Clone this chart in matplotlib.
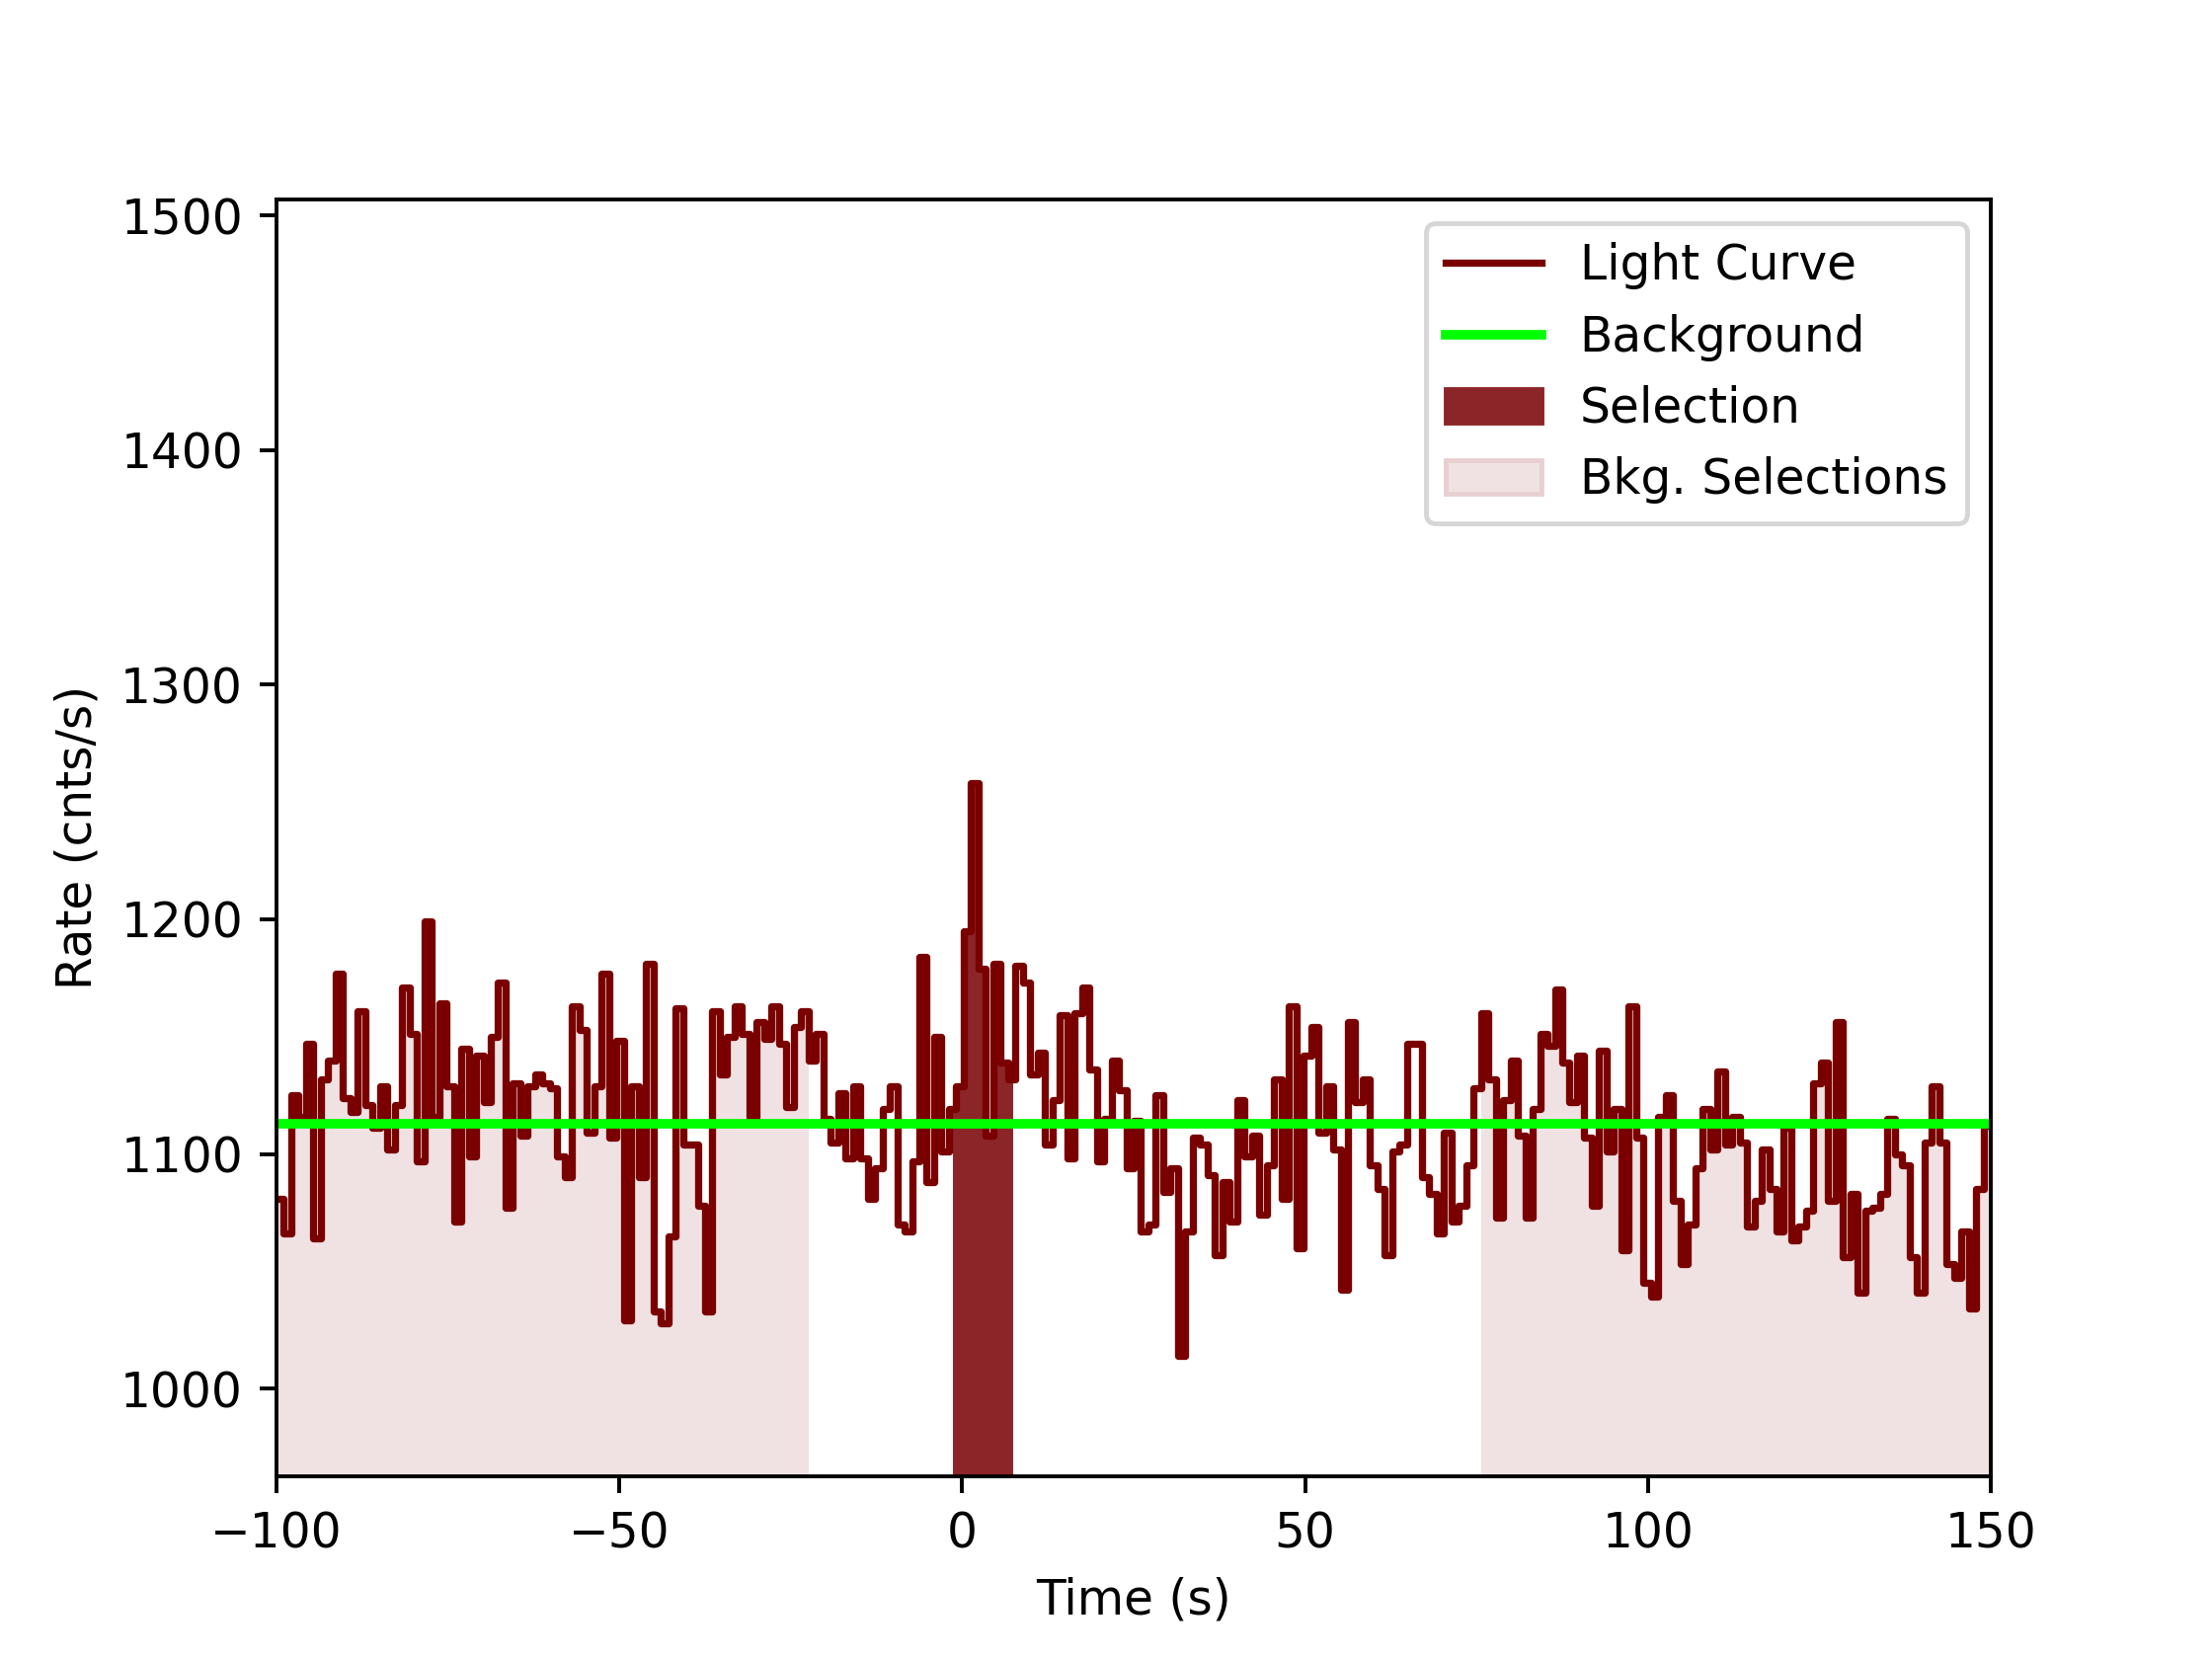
import numpy as np
import matplotlib
matplotlib.use("Agg")
import matplotlib.pyplot as plt
from matplotlib.patches import Patch
from matplotlib.lines import Line2D

rate = [
 1081,1066,1125,1116,1147,1064,1132,1140,1177,1124,1118,1161,1121,1111,1129,1102,1121,1171,1151,1097,
 1199,1116,1164,1129,1071,1145,1099,1142,1122,1150,1173,1077,1130,1108,1129,1134,1130,1128,1099,1090,
 1163,1153,1109,1129,1177,1107,1148,1029,1129,1090,1181,1033,1028,1065,1162,1104,1104,1078,1033,1161,
 1134,1150,1163,1151,1116,1156,1149,1163,1147,1120,1154,1161,1140,1151,1115,1105,1126,1098,1129,1098,
 1081,1094,1119,1129,1070,1067,1097,1184,1088,1150,1101,1119,1129,1195,1258,1179,1108,1181,1139,1132,
 1180,1173,1134,1143,1104,1123,1159,1098,1160,1171,1136,1097,1115,1140,1127,1094,
 1114,1067,1070,1125,1084,1094,1014,1067,1107,1104,1091,1057,1088,1071,1123,1099,1108,1074,1095,1132,
 1081,1163,1060,1142,1154,1109,1129,1102,1042,1156,1122,1132,1095,1085,1057,1101,1104,1147,1147,1090,
 1083,1066,1109,1071,1078,1095,1128,1160,1132,1073,1123,1140,1108,1073,1119,1151,
 1146,1170,1139,1122,1142,1107,1078,1144,1101,1119,1059,1163,1107,1045,1039,1116,1125,1080,1053,1070,
 1094,1119,1102,1135,1104,1116,1105,1069,1080,1102,1085,1067,1111,1063,1069,1076,1130,1139,1080,1156,
 1056,1083,1041,1076,1077,1083,1115,1100,1095,1056,1041,1105,1129,1105,1053,1047,1067,1034,1085,1112,
]
t_start, t_end = -100, 150
background = 1113
sel = (-1.3, 7.4)
bkg_sel = [(-100, -22), (75, 150)]

rate = np.array(rate, dtype=float)
edges = np.linspace(t_start, t_end, len(rate) + 1)
yvals = np.append(rate, rate[-1])

fig = plt.figure(figsize=(6.4, 4.8), dpi=350)
ax = fig.add_subplot(111)
ybot = 962.5

for a, b in bkg_sel:
    m = (edges >= a) & (edges <= b)
    ax.fill_between(edges[m], ybot, yvals[m], step='post', color='#f0e2e3', lw=0)
m = (edges >= sel[0] - 1.1) & (edges <= sel[1] + 1.1)
xs = np.clip(edges[m], sel[0], sel[1])
ax.fill_between(xs, ybot, yvals[m], step='post', color='#8c2527', lw=0)

ax.step(edges, yvals, where='post', color='#7a0000', lw=1.5)
ax.axhline(background, color='#00ff00', lw=2)

ax.set_xlim(-100, 150)
ax.set_ylim(ybot, 1507)
ax.set_xticks([-100, -50, 0, 50, 100, 150])
ax.set_yticks([1000, 1100, 1200, 1300, 1400, 1500])
ax.set_xlabel('Time (s)')
ax.set_ylabel('Rate (cnts/s)')

handles = [Line2D([], [], color='#7a0000', lw=1.5),
           Line2D([], [], color='#00ff00', lw=2),
           Patch(color='#8c2527'),
           Patch(facecolor='#f0e2e3', edgecolor='#e8d0d2')]
ax.legend(handles, ['Light Curve', 'Background', 'Selection', 'Bkg. Selections'],
          loc='upper right')
fig.savefig('out.png', dpi=350)
